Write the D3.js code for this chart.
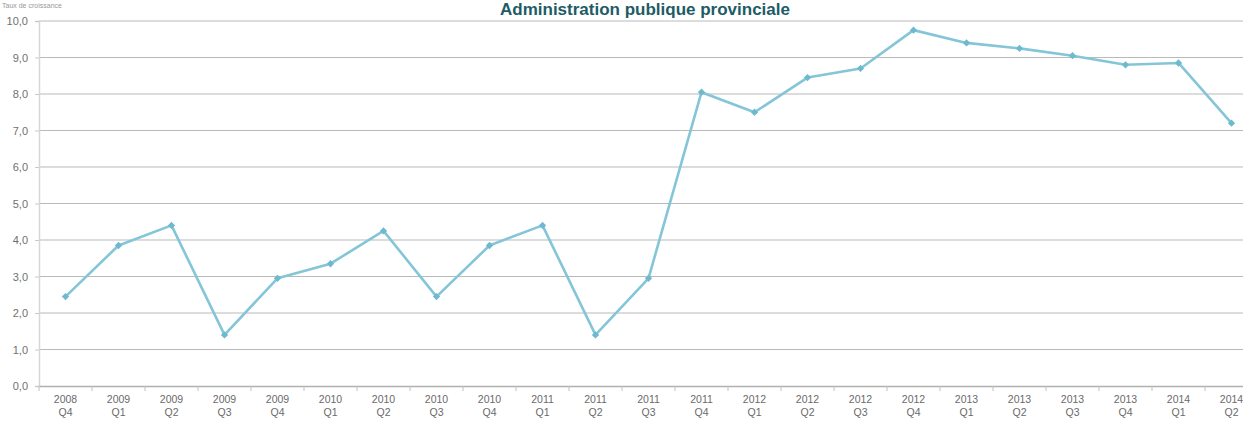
<!DOCTYPE html>
<html>
<head>
<meta charset="utf-8">
<script src="https://cdn.jsdelivr.net/npm/d3@7"></script>
<style>
  body { margin: 0; background: #fff; }
  svg { display: block; font-family: "Liberation Sans", Arial, sans-serif; }
</style>
</head>
<body>
<svg id="chart" width="1243" height="428"></svg>
<script>
// Quarterly series, provincial public administration
const years = ["2008","2009","2009","2009","2009","2010","2010","2010","2010","2011","2011","2011","2011","2012","2012","2012","2012","2013","2013","2013","2013","2014","2014"];
const quarters = ["Q4","Q1","Q2","Q3","Q4","Q1","Q2","Q3","Q4","Q1","Q2","Q3","Q4","Q1","Q2","Q3","Q4","Q1","Q2","Q3","Q4","Q1","Q2"];
const values = [2.45, 3.85, 4.4, 1.4, 2.95, 3.35, 4.25, 2.45, 3.85, 4.4, 1.4, 2.95, 8.05, 7.5, 8.45, 8.7, 9.75, 9.4, 9.25, 9.05, 8.8, 8.85, 7.2];
const yTicks = [0,1,2,3,4,5,6,7,8,9,10];
const title = "Administration publique provinciale";
const subtitle = "Taux de croissance";

const svg = d3.select("#chart");
const keys = years.map((y, i) => y + " " + quarters[i]);

const x = d3.scaleBand().domain(keys).range([39, 39 + keys.length * 53]);
const y = d3.scaleLinear().domain([0, 10]).range([386, 21]);
const fmt = v => d3.format(".1f")(v).replace(".", ",");

// horizontal grid lines
svg.append("g").selectAll("line").data(yTicks.slice(1)).join("line")
  .attr("x1", 39).attr("x2", 1243)
  .attr("y1", d => y(d)).attr("y2", d => y(d))
  .attr("stroke", "#b9b9b9").attr("stroke-width", 1.2);

// y axis
const yAxis = svg.append("g").attr("transform", "translate(39,0)")
  .call(d3.axisLeft(y).tickValues(yTicks).tickFormat(fmt).tickSize(4).tickPadding(7));
yAxis.select(".domain").attr("stroke", "#d6d6d6").attr("stroke-width", 1.5);
yAxis.selectAll(".tick line").attr("stroke", "#c8c8c8");
yAxis.selectAll("text").attr("fill", "#707070").attr("font-size", 11);

// x axis with two-line category labels
const xAxis = svg.append("g").attr("transform", "translate(0,386)")
  .call(d3.axisBottom(x).tickSize(0).tickFormat(""));
xAxis.select(".domain").attr("stroke", "#b0b0b0").attr("stroke-width", 1.5);
svg.append("g").selectAll("line").data(keys.concat([null])).join("line")
  .attr("x1", (d, i) => 39 + i * x.step()).attr("x2", (d, i) => 39 + i * x.step())
  .attr("y1", 386).attr("y2", 391)
  .attr("stroke", "#c0c0c0");
const lbl = svg.append("g").selectAll("text").data(keys).join("text")
  .attr("x", d => x(d) + x.bandwidth() / 2)
  .attr("text-anchor", "middle")
  .attr("fill", "#6a6a6a").attr("font-size", 10.5);
lbl.append("tspan").attr("x", d => x(d) + x.bandwidth() / 2).attr("y", 403).text((d, i) => years[i]);
lbl.append("tspan").attr("x", d => x(d) + x.bandwidth() / 2).attr("y", 416).text((d, i) => quarters[i]);

// series line
const line = d3.line()
  .x((d, i) => x(keys[i]) + x.bandwidth() / 2)
  .y(d => y(d));
svg.append("path").datum(values)
  .attr("d", line)
  .attr("fill", "none")
  .attr("stroke", "#84c5d8")
  .attr("stroke-width", 2.6)
  .attr("stroke-linejoin", "round");

// diamond markers
svg.append("g").selectAll("path").data(values).join("path")
  .attr("transform", (d, i) => `translate(${x(keys[i]) + x.bandwidth() / 2},${y(d)})`)
  .attr("d", d3.symbol(d3.symbolDiamond2, 34))
  .attr("fill", "#6fb9cf");

// titles
svg.append("text").attr("x", 645).attr("y", 15)
  .attr("text-anchor", "middle")
  .attr("font-size", 17).attr("font-weight", "bold")
  .attr("fill", "#1d5c66")
  .text(title);
svg.append("text").attr("x", 2).attr("y", 8)
  .attr("font-size", 7).attr("fill", "#999")
  .text(subtitle);
</script>
</body>
</html>
